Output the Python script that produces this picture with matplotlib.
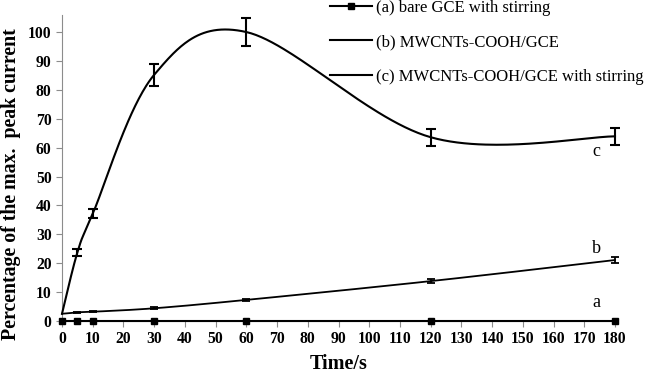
import numpy as np
import matplotlib
matplotlib.use("Agg")
import matplotlib.pyplot as plt
from matplotlib.lines import Line2D

time = [0, 5, 10, 30, 60, 120, 180]
bare = [0, 0, 0, 0, 0, 0, 0]
mw = [2.5, 3.0, 3.2, 4.4, 7.3, 13.8, 21.1]
mw_err = [0, 0.2, 0.2, 0.3, 0.3, 0.6, 1.0]
mws = [2.5, 23.7, 37.1, 85.2, 100.0, 63.6, 63.9]
mws_err = [0, 1.2, 1.6, 3.8, 4.7, 3.0, 3.0]

labels = ["(a) bare GCE with stirring", "(b) MWCNTs-COOH/GCE",
          "(c) MWCNTs-COOH/GCE with stirring"]
xticks = list(range(0, 181, 10))
yticks = list(range(0, 101, 10))

SERIF = ["Liberation Serif", "DejaVu Serif"]
plt.rcParams["font.family"] = SERIF


def smooth(x, y, n=60):
    x = np.asarray(x, float)
    y = np.asarray(y, float)
    P = np.column_stack([x, y])
    out = [P[0]]
    t = np.linspace(0, 1, n)[1:]
    for i in range(len(P) - 1):
        p0 = P[i - 1] if i > 0 else P[i]
        p1 = P[i]
        p2 = P[i + 1]
        p3 = P[i + 2] if i + 2 < len(P) else P[i + 1]
        c1 = p1 + (p2 - p0) / 6.0
        c2 = p2 - (p3 - p1) / 6.0
        seg = ((1 - t) ** 3)[:, None] * p1 + (3 * (1 - t) ** 2 * t)[:, None] * c1 \
            + (3 * (1 - t) * t ** 2)[:, None] * c2 + (t ** 3)[:, None] * p2
        out.extend(seg)
    out = np.array(out)
    return out[:, 0], out[:, 1]


fig = plt.figure(figsize=(6.46, 3.73), dpi=100)
ax = fig.add_axes([62 / 646, 1 - 321 / 373, (615 - 62) / 646, (321 - 14.7) / 373])

ax.set_xlim(0, 180)
ax.set_ylim(0, 106)

grey = "#8c8c8c"
for s in ["top", "right"]:
    ax.spines[s].set_visible(False)
ax.spines["left"].set_color(grey)
ax.spines["bottom"].set_color(grey)
ax.tick_params(axis="both", colors=grey, length=4, width=0.8, direction="out")
ax.tick_params(axis="both", labelcolor="black", labelsize=11.3)
ax.set_xticks(xticks)
ax.set_yticks(yticks)
for lab in ax.get_xticklabels() + ax.get_yticklabels():
    lab.set_fontweight("bold")

# series c
xs, ys = smooth(time, mws)
ax.plot(xs, ys, color="black", lw=1.5, clip_on=False, zorder=3)
ax.errorbar(time[1:], mws[1:], yerr=mws_err[1:], fmt="none", ecolor="black",
            elinewidth=1.5, capsize=3.5, capthick=1.5, clip_on=False, zorder=3)

# series b
xb, yb = smooth(time, mw)
ax.plot(xb, yb, color="black", lw=1.3, clip_on=False, zorder=3)
ax.errorbar(time[1:], mw[1:], yerr=mw_err[1:], fmt="none", ecolor="black",
            elinewidth=1.3, capsize=3, capthick=1.3, clip_on=False, zorder=3)

# series a
ax.plot(time, bare, color="black", lw=1.5, marker="s", markersize=5,
        clip_on=False, zorder=4)

ax.text(174, 58.8, "c", fontsize=13, ha="center", va="center")
ax.text(174, 25.2, "b", fontsize=13, ha="center", va="center")
ax.text(174, 6.4, "a", fontsize=13, ha="center", va="center")

ax.set_xlabel("Time/s", fontsize=14.5, fontweight="bold", labelpad=5)
ax.set_ylabel("Percentage of the max.  peak current", fontsize=14.3,
              fontweight="bold", labelpad=4)
ax.yaxis.set_label_coords(-0.075, 0.447)

handles = [Line2D([], [], color="black", lw=1.5, marker="s", markersize=5),
           Line2D([], [], color="black", lw=1.5),
           Line2D([], [], color="black", lw=1.5)]
leg = fig.legend(handles, labels, loc="upper left",
                 bbox_to_anchor=(330 / 646, 1 + 0 / 373), frameon=False,
                 fontsize=12, handlelength=2.5, handletextpad=0.25,
                 labelspacing=1.1, borderpad=0, borderaxespad=0)

fig.savefig("out.png", dpi=100)
